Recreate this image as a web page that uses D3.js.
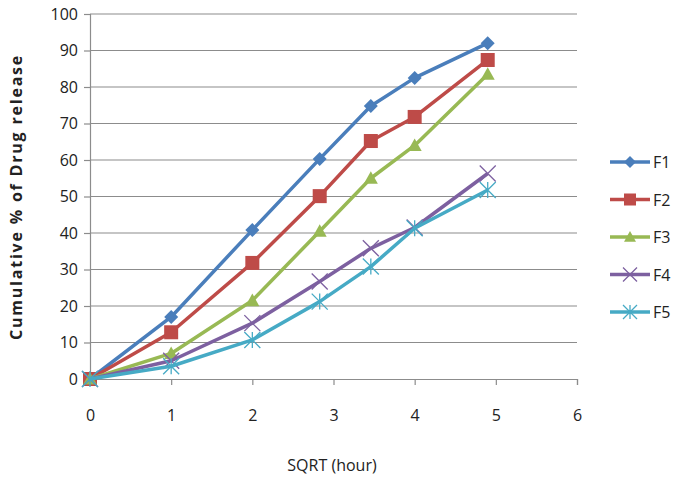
<!DOCTYPE html>
<html>
<head>
<meta charset="utf-8">
<script src="https://cdnjs.cloudflare.com/ajax/libs/d3/7.8.5/d3.min.js"></script>
<style>
    body { margin: 0; background: #fff; }
    svg text { font-family: "Open Sans", "Noto Sans", sans-serif; fill: #222; }
</style>
</head>
<body>
<div id="chart"></div>
<script>
var xValues = [0, 1, 2, 2.83, 3.46, 4, 4.9];
var seriesNames = ["F1", "F2", "F3", "F4", "F5"];
var f1 = [0, 17, 40.8, 60.3, 74.8, 82.5, 92];
var f2 = [0, 12.8, 31.8, 50.1, 65.2, 71.8, 87.4];
var f3 = [0, 7, 21.5, 40.5, 55, 64, 83.5];
var f4 = [0, 5, 15.3, 26.7, 35.8, 41.5, 56.3];
var f5 = [0, 3.5, 10.7, 21.2, 30.8, 41.3, 51.8];
var xTicks = [0, 1, 2, 3, 4, 5, 6];
var yTicks = [0, 10, 20, 30, 40, 50, 60, 70, 80, 90, 100];

function init() {
    var w = 674;
    var h = 480;
    var colors = ["#4A7EBB", "#BE4B48", "#98B954", "#7D60A0", "#46AAC5"];
    var shapes = ["diamond", "square", "triangle", "x", "star"];
    var allSeries = [f1, f2, f3, f4, f5];

    var xScale = d3.scaleLinear().domain([0, 6]).range([90, 577]);
    var yScale = d3.scaleLinear().domain([0, 100]).range([379, 14]);

    var svg = d3.select("#chart").append("svg")
        .attr("width", w)
        .attr("height", h);

    // horizontal gridlines
    svg.append("g")
        .selectAll("line")
        .data(yTicks.slice(1))
        .enter()
        .append("line")
        .attr("x1", xScale(0))
        .attr("x2", xScale(6))
        .attr("y1", function (d) { return yScale(d); })
        .attr("y2", function (d) { return yScale(d); })
        .attr("stroke", "#8c8c8c")
        .attr("stroke-width", 1.2);

    var xAxis = d3.axisBottom(xScale).tickValues(xTicks).tickFormat(d3.format("d")).tickSize(6).tickPadding(25);
    var yAxis = d3.axisLeft(yScale).tickValues(yTicks).tickFormat(d3.format("d")).tickSize(6).tickPadding(6);

    var gx = svg.append("g")
        .attr("transform", "translate(0," + yScale(0) + ")")
        .call(xAxis);
    var gy = svg.append("g")
        .attr("transform", "translate(" + xScale(0) + ",0)")
        .call(yAxis);

    [gx, gy].forEach(function (g) {
        g.select(".domain").attr("stroke", "#8c8c8c").attr("stroke-width", 1.2);
        g.selectAll(".tick line").attr("stroke", "#8c8c8c").attr("stroke-width", 1.2);
        g.selectAll(".tick text")
            .style("font-family", "'Open Sans', sans-serif")
            .style("font-size", "16px")
            .attr("fill", "#222");
    });

    //Name the X-axis
    svg.append("text")
        .attr("text-anchor", "middle")
        .attr("x", 332)
        .attr("y", 471)
        .style("font-size", "16px")
        .text("SQRT (hour)");

    //Name the Y-axis
    svg.append("text")
        .attr("text-anchor", "middle")
        .attr("transform", "translate(22," + 197 + ") rotate(-90)")
        .style("font-size", "16px")
        .style("font-weight", "bold")
        .style("letter-spacing", "1.8px")
        .text("Cumulative % of Drug release");

    function drawMarker(g, shape, color, x, y, s) {
        if (shape === "diamond") {
            g.append("path")
                .attr("d", "M" + x + "," + (y - s) + "L" + (x + s) + "," + y + "L" + x + "," + (y + s) + "L" + (x - s) + "," + y + "Z")
                .attr("fill", color);
        } else if (shape === "square") {
            g.append("rect")
                .attr("x", x - s).attr("y", y - s)
                .attr("width", 2 * s).attr("height", 2 * s)
                .attr("fill", color);
        } else if (shape === "triangle") {
            g.append("path")
                .attr("d", "M" + x + "," + (y - s) + "L" + (x + s) + "," + (y + s * 0.8) + "L" + (x - s) + "," + (y + s * 0.8) + "Z")
                .attr("fill", color);
        } else if (shape === "x") {
            g.append("path")
                .attr("d", "M" + (x - s) + "," + (y - s) + "L" + (x + s) + "," + (y + s) + "M" + (x - s) + "," + (y + s) + "L" + (x + s) + "," + (y - s))
                .attr("stroke", color).attr("stroke-width", 1.3).attr("fill", "none");
        } else {
            g.append("path")
                .attr("d", "M" + (x - s) + "," + (y - s) + "L" + (x + s) + "," + (y + s) + "M" + (x - s) + "," + (y + s) + "L" + (x + s) + "," + (y - s) +
                    "M" + x + "," + (y - s) + "L" + x + "," + (y + s))
                .attr("stroke", color).attr("stroke-width", 1.3).attr("fill", "none");
        }
    }

    var line = d3.line()
        .x(function (d, i) { return xScale(xValues[i]); })
        .y(function (d) { return yScale(d); });

    allSeries.forEach(function (vals, k) {
        var g = svg.append("g");
        g.append("path")
            .datum(vals)
            .attr("d", line)
            .attr("fill", "none")
            .attr("stroke", colors[k])
            .attr("stroke-width", 3.5)
            .attr("stroke-linejoin", "round");
        vals.forEach(function (v, i) {
            drawMarker(g, shapes[k], colors[k], xScale(xValues[i]), yScale(v), k < 3 ? 7 : 8);
        });
    });

    // legend
    var legend = svg.append("g");
    seriesNames.forEach(function (name, k) {
        var ly = 162 + k * 37.5;
        legend.append("line")
            .attr("x1", 610).attr("x2", 650)
            .attr("y1", ly).attr("y2", ly)
            .attr("stroke", colors[k])
            .attr("stroke-width", 3.5);
        drawMarker(legend, shapes[k], colors[k], 630, ly, k < 3 ? 6 : 7);
        legend.append("text")
            .attr("x", 653)
            .attr("y", ly + 6)
            .style("font-size", "16px")
            .text(name);
    });
}
window.onload = init;
</script>
</body>
</html>
